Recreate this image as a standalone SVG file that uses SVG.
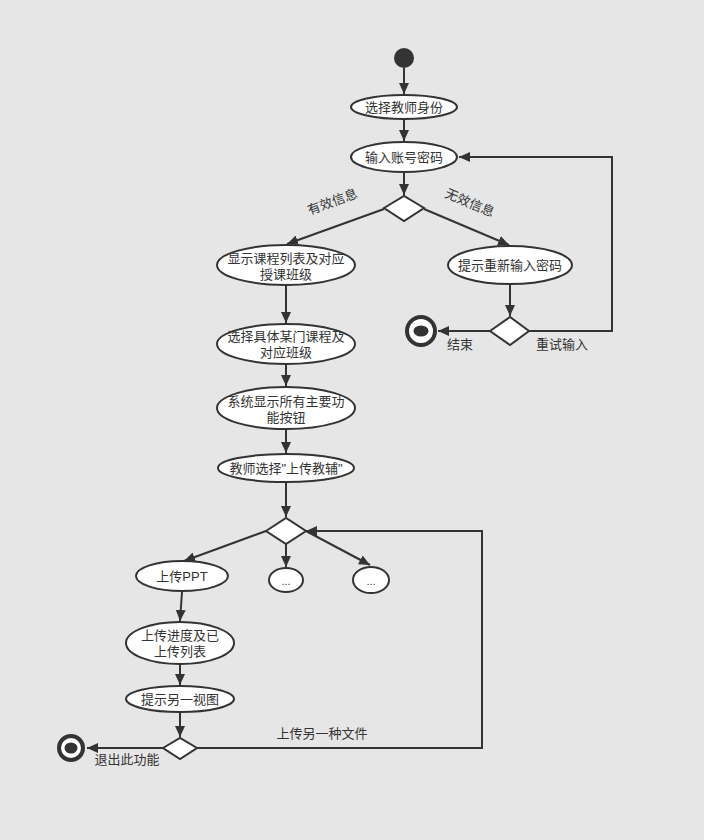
<svg xmlns="http://www.w3.org/2000/svg" width="704" height="840" viewBox="0 0 704 840">
<defs>
<marker id="arr" markerUnits="userSpaceOnUse" markerWidth="12" markerHeight="10" refX="11" refY="5" orient="auto">
<path d="M0,0 L11,5 L0,10 z" fill="#333"/>
</marker>
<style>
.n{fill:#fff;stroke:#333;stroke-width:2}
.t{font-family:"Liberation Sans","Noto Sans CJK SC",sans-serif;font-size:13px;fill:#333;text-anchor:middle}
.c{fill:none;stroke:#333;stroke-width:2;marker-end:url(#arr)}
</style>
</defs>
<rect width="704" height="840" fill="#e6e6e6"/>
<g id="connectors">
<path class="c" d="M404,68 L404,94"/>
<path class="c" d="M404,119 L404,141"/>
<path class="c" d="M404,172 L404,195"/>
<path class="c" d="M384,209 L287,244"/>
<path class="c" d="M424,209 L509,245"/>
<path class="c" d="M510,285 L510,316"/>
<path class="c" d="M490,331 L438,331"/>
<path class="c" d="M529,331 L612,331 L612,157 L459,157"/>
<path class="c" d="M286,286 L286,323"/>
<path class="c" d="M286,365 L286,386"/>
<path class="c" d="M286,430 L286,453"/>
<path class="c" d="M286,483 L286,517"/>
<path class="c" d="M266,531 L184,561"/>
<path class="c" d="M286,544 L286,567"/>
<path class="c" d="M306,531 L370,565"/>
<path class="c" d="M182,592 L180,621"/>
<path class="c" d="M180,665 L180,685"/>
<path class="c" d="M180,712 L180,737"/>
<path class="c" d="M163,748 L87,748"/>
<path class="c" d="M197,748 L482,748 L482,531 L306,531"/>
<text class="t" transform="translate(334,206) rotate(-20)">有效信息</text>
<text class="t" transform="translate(468,207) rotate(23)">无效信息</text>
<text class="t" x="460" y="349">结束</text>
<text class="t" x="562" y="349">重试输入</text>
<text class="t" x="322" y="738">上传另一种文件</text>
<text class="t" x="127" y="764">退出此功能</text>
</g>
<g id="start"><circle cx="404" cy="58" r="10" fill="#333"/></g>
<g id="n1"><ellipse class="n" cx="404" cy="107" rx="53" ry="12"/><text class="t" x="404" y="112">选择教师身份</text></g>
<g id="n2"><ellipse class="n" cx="404" cy="157" rx="53" ry="15"/><text class="t" x="404" y="162">输入账号密码</text></g>
<g id="d1"><path class="n" d="M384,208 L404,196 L424,208 L404,221 z"/></g>
<g id="n3"><ellipse class="n" cx="286" cy="265" rx="69" ry="20"/><text class="t" x="286" y="263">显示课程列表及对应</text><text class="t" x="286" y="279">授课班级</text></g>
<g id="n4"><ellipse class="n" cx="510" cy="265" rx="62" ry="19"/><text class="t" x="510" y="270">提示重新输入密码</text></g>
<g id="d2"><path class="n" d="M490,331 L510,317 L529,331 L510,345 z"/></g>
<g id="end1"><circle cx="421" cy="331" r="14" fill="#fff" stroke="#333" stroke-width="4"/><ellipse cx="421" cy="331" rx="7.5" ry="5.5" fill="#333"/></g>
<g id="n5"><ellipse class="n" cx="286" cy="344" rx="69" ry="20"/><text class="t" x="286" y="341">选择具体某门课程及</text><text class="t" x="286" y="357">对应班级</text></g>
<g id="n6"><ellipse class="n" cx="286" cy="408" rx="69" ry="21"/><text class="t" x="286" y="406">系统显示所有主要功</text><text class="t" x="286" y="422">能按钮</text></g>
<g id="n7"><ellipse class="n" cx="286" cy="468" rx="68" ry="14"/><text class="t" x="286" y="473">教师选择"上传教辅"</text></g>
<g id="d3"><path class="n" d="M266,531 L286,518 L306,531 L286,544 z"/></g>
<g id="n8"><ellipse class="n" cx="182" cy="576" rx="46" ry="15"/><text class="t" x="182" y="581">上传PPT</text></g>
<g id="n9"><ellipse class="n" cx="286" cy="580" rx="17" ry="12"/><text class="t" x="286" y="585" style="font-size:11px">...</text></g>
<g id="n10"><ellipse class="n" cx="371" cy="580" rx="18" ry="13"/><text class="t" x="371" y="585" style="font-size:11px">...</text></g>
<g id="n11"><ellipse class="n" cx="180" cy="643" rx="54" ry="21"/><text class="t" x="180" y="640">上传进度及已</text><text class="t" x="180" y="656">上传列表</text></g>
<g id="n12"><ellipse class="n" cx="180" cy="699" rx="54" ry="13"/><text class="t" x="180" y="704">提示另一视图</text></g>
<g id="d4"><path class="n" d="M163,748 L180,738 L197,748 L180,759 z"/></g>
<g id="end2"><circle cx="71" cy="748" r="12" fill="#fff" stroke="#333" stroke-width="4"/><ellipse cx="71" cy="748" rx="6.5" ry="5.5" fill="#333"/></g>
</svg>
